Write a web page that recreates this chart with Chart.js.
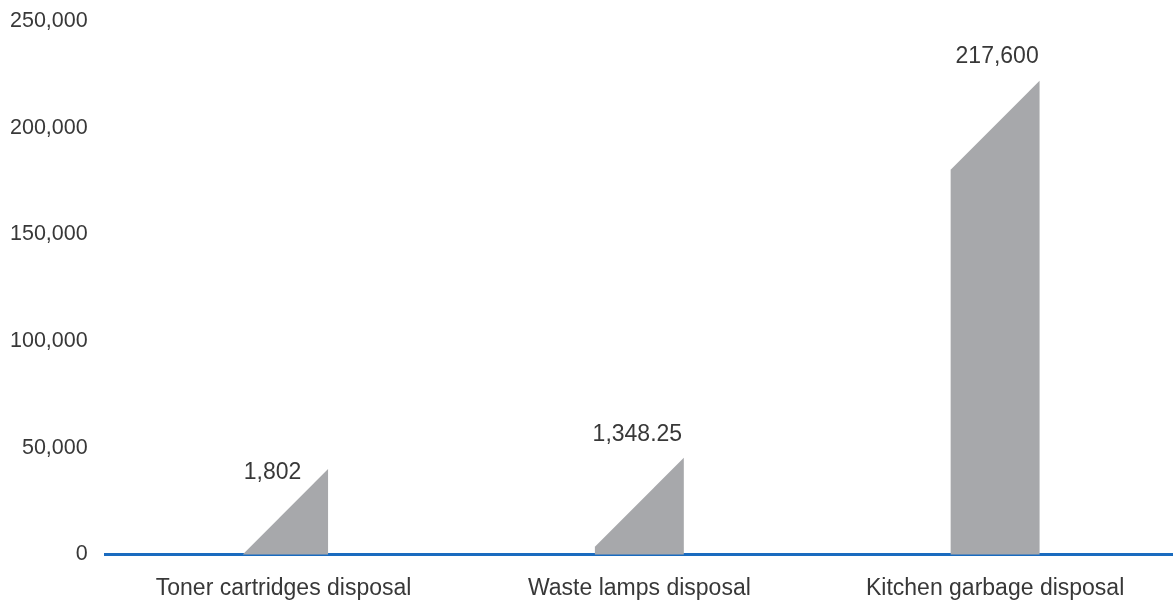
<!DOCTYPE html>
<html>
<head>
<meta charset="utf-8">
<script src="https://cdn.jsdelivr.net/npm/chart.js@4"></script>
<style>
    html, body { margin: 0; padding: 0; background: #fff; }
    #wrap { width: 1173px; height: 605px; }
</style>
</head>
<body>
<div id="wrap"><canvas id="myChart" width="1173" height="605"></canvas></div>
<script>
// categories and figures as printed on the chart
var categories = ['Toner cartridges disposal', 'Waste lamps disposal', 'Kitchen garbage disposal'];
var values = [1802, 1348.25, 217600];
// drawn height of each bar (right edge of the slanted top)
var barTops = [40000, 45300, 222000];
var yTicks = [0, 50000, 100000, 150000, 200000, 250000];

// where each printed figure sits relative to the bar top [dx, dy]
var labelOffsets = [[-11, 4], [-2, -23], [2, -24]];

var fontFamily = '"Liberation Sans", Arial, Helvetica, sans-serif';
var textColor = '#383838';
var barColor = '#a7a8ab';
var axisBlue = '#1a6bbf';

// bars with a 45 degree cut across the top, left side lower
var slantBars = {
    id: 'slantBars',
    afterDatasetsDraw: function (chart) {
        var c = chart.ctx;
        var meta = chart.getDatasetMeta(0);
        c.save();
        meta.data.forEach(function (bar, i) {
            var p = bar.getProps(['x', 'y', 'base', 'width'], true);
            var left = p.x - p.width / 2;
            var right = p.x + p.width / 2;
            var leftTop = p.y + p.width;
            c.beginPath();
            if (leftTop < p.base) {
                c.moveTo(left, p.base);
                c.lineTo(left, leftTop);
            } else {
                c.moveTo(right - (p.base - p.y), p.base);
            }
            c.lineTo(right, p.y);
            c.lineTo(right, p.base);
            c.closePath();
            c.fillStyle = barColor;
            c.fill();

            var off = labelOffsets[i];
            c.font = '23px ' + fontFamily;
            c.fillStyle = textColor;
            c.textAlign = 'center';
            c.textBaseline = 'middle';
            c.fillText(values[i].toLocaleString('en-US'), p.x + off[0], p.y + off[1]);
        });
        c.restore();
    }
};

var ctx = document.getElementById('myChart').getContext('2d');
var myChart = new Chart(ctx, {
    type: 'bar',
    data: {
        labels: categories,
        datasets: [{
            data: barTops,
            backgroundColor: 'rgba(0,0,0,0)',
            borderWidth: 0,
            barPercentage: 0.25,
            categoryPercentage: 1
        }]
    },
    options: {
        responsive: false,
        animation: false,
        layout: {
            padding: { top: 21, left: -8, right: 0, bottom: -17 }
        },
        plugins: {
            legend: { display: false },
            tooltip: { enabled: false }
        },
        scales: {
            x: {
                z: 1,
                grid: { display: false, drawTicks: false },
                border: { display: true, color: axisBlue, width: 3 },
                ticks: {
                    padding: 20,
                    color: textColor,
                    font: { family: fontFamily, size: 23 }
                }
            },
            y: {
                min: 0,
                max: 250000,
                afterBuildTicks: function (axis) {
                    axis.ticks = yTicks.map(function (v) { return { value: v }; });
                },
                afterFit: function (axis) {
                    axis.paddingTop = 0;
                },
                grid: { display: false, drawTicks: false },
                border: { display: false },
                ticks: {
                    padding: 18,
                    color: textColor,
                    font: { family: fontFamily, size: 21.5 },
                    callback: function (v) { return Number(v).toLocaleString('en-US'); }
                }
            }
        }
    },
    plugins: [slantBars]
});
</script>
</body>
</html>
